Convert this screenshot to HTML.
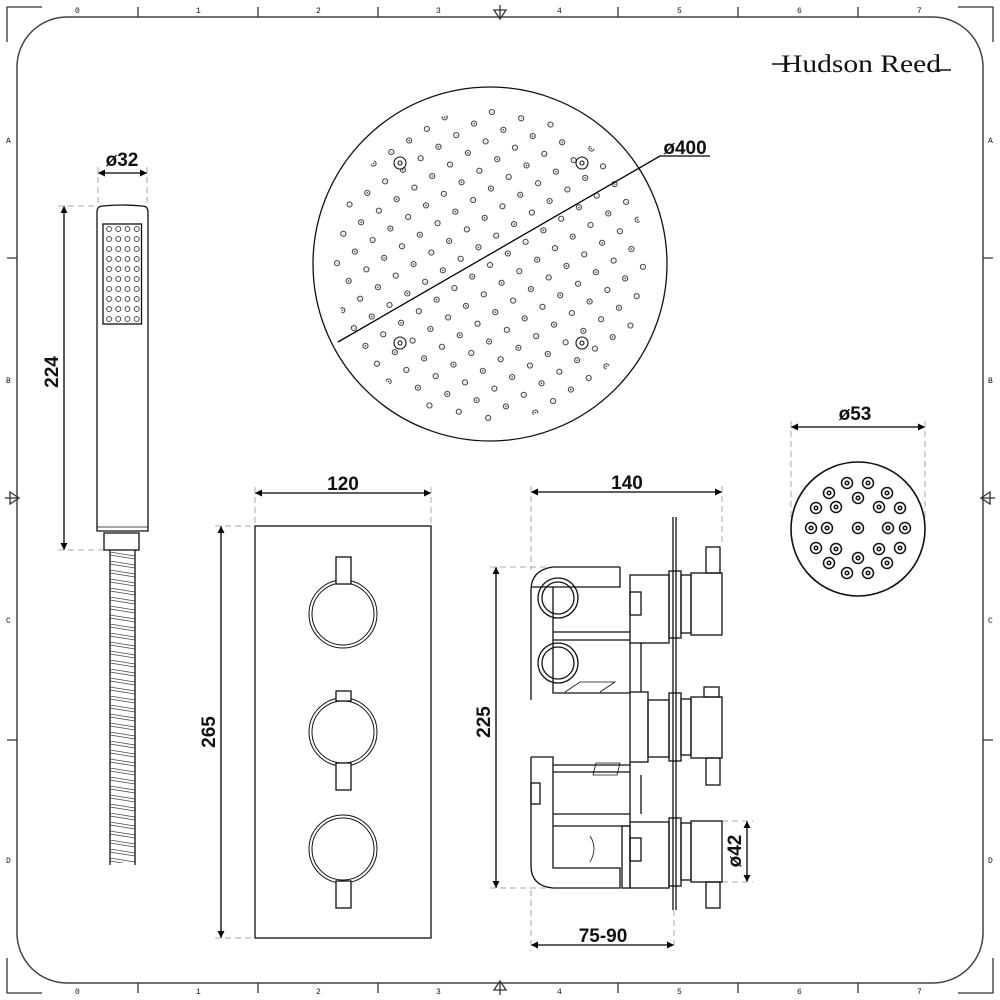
<!DOCTYPE html>
<html><head><meta charset="utf-8"><style>
html,body{margin:0;padding:0;background:#fff}
svg{display:block}
.t{font-family:"Liberation Sans",sans-serif;font-size:19px;font-weight:bold;fill:#111}
.s{font-family:"Liberation Mono",monospace;font-size:8px;fill:#111}
</style></head><body>
<svg width="1000" height="1000" viewBox="0 0 1000 1000" xmlns="http://www.w3.org/2000/svg">
<defs>
<marker id="a" viewBox="0 0 10 10" refX="10" refY="5" markerWidth="10" markerHeight="7" orient="auto-start-reverse" markerUnits="userSpaceOnUse"><path d="M0,0 L10,5 L0,10 z" fill="#000"/></marker>
<pattern id="hsp" x="104.5" y="224" width="9.2" height="10" patternUnits="userSpaceOnUse">
<circle cx="4.6" cy="5" r="2.5" fill="none" stroke="#222" stroke-width="0.8"/></pattern>
<pattern id="hp" x="110" y="552" width="25" height="9" patternUnits="userSpaceOnUse">
<path d="M0,0 L25,4 M0,3 L25,7" stroke="#444" stroke-width="0.7" fill="none"/></pattern>
<pattern id="sp" x="490" y="265" width="30" height="30" patternUnits="userSpaceOnUse" patternTransform="rotate(12 490 265)">
<circle cx="0" cy="0" r="2.6" fill="none" stroke="#222" stroke-width="0.9"/>
<circle cx="0" cy="0" r="0.8" fill="#222"/>
<circle cx="30" cy="0" r="2.6" fill="none" stroke="#222" stroke-width="0.9"/>
<circle cx="0" cy="30" r="2.6" fill="none" stroke="#222" stroke-width="0.9"/>
<circle cx="30" cy="30" r="2.6" fill="none" stroke="#222" stroke-width="0.9"/>
<circle cx="15" cy="15" r="2.6" fill="none" stroke="#222" stroke-width="0.9"/>
<circle cx="15" cy="15" r="0.8" fill="#222"/>
</pattern>
</defs>
<g fill="none" stroke="#333" stroke-width="1.3">
<rect x="17" y="17" width="966" height="966" rx="50" ry="50" stroke="#444" stroke-width="1.5"/>
<path d="M7,42 V7 H42 M958,7 H993 V42 M7,958 V993 H42 M958,993 H993 V958"/>
<path d="M138,7 V17 M258,7 V17 M378,7 V17 M618,7 V17 M738,7 V17 M858,7 V17
M138,983 V993 M258,983 V993 M378,983 V993 M618,983 V993 M738,983 V993 M858,983 V993
M7,258 H17 M7,740 H17 M983,258 H993 M983,740 H993"/>
<path d="M500,5 V19 M494,10 L500,19 L506,10 Z M500,981 V995 M494,990 L500,981 L506,990 Z
M5,498 H19 M10,492 L19,498 L10,504 Z M981,498 H995 M990,492 L981,498 L990,504 Z"/>
</g>
<g>
<text class="s" x="75" y="13">0</text><text class="s" x="196" y="13">1</text><text class="s" x="316" y="13">2</text><text class="s" x="436" y="13">3</text><text class="s" x="557" y="13">4</text><text class="s" x="677" y="13">5</text><text class="s" x="797" y="13">6</text><text class="s" x="917" y="13">7</text>
<text class="s" x="75" y="994">0</text><text class="s" x="196" y="994">1</text><text class="s" x="316" y="994">2</text><text class="s" x="436" y="994">3</text><text class="s" x="557" y="994">4</text><text class="s" x="677" y="994">5</text><text class="s" x="797" y="994">6</text><text class="s" x="917" y="994">7</text>
<text class="s" x="6" y="143">A</text><text class="s" x="6" y="383">B</text><text class="s" x="6" y="623">C</text><text class="s" x="6" y="863">D</text>
<text class="s" x="988" y="143">A</text><text class="s" x="988" y="383">B</text><text class="s" x="988" y="623">C</text><text class="s" x="988" y="863">D</text>
</g>
<text x="781" y="72" font-family="Liberation Serif,serif" font-size="25" fill="#111" textLength="160" lengthAdjust="spacingAndGlyphs">Hudson Reed</text>
<path d="M772,64 H790 M935,70 H951" stroke="#111" stroke-width="1.5"/>

<g stroke="#000" stroke-width="1.3" fill="none">
<line x1="98" y1="173" x2="147" y2="173" marker-start="url(#a)" marker-end="url(#a)"/>
<line x1="64" y1="206" x2="64" y2="550" marker-start="url(#a)" marker-end="url(#a)"/>
<line x1="255" y1="493" x2="431" y2="493" marker-start="url(#a)" marker-end="url(#a)"/>
<line x1="221" y1="526" x2="221" y2="938" marker-start="url(#a)" marker-end="url(#a)"/>
<line x1="531" y1="492" x2="722" y2="492" marker-start="url(#a)" marker-end="url(#a)"/>
<line x1="496" y1="567" x2="496" y2="888" marker-start="url(#a)" marker-end="url(#a)"/>
<line x1="531" y1="945" x2="674" y2="945" marker-start="url(#a)" marker-end="url(#a)"/>
<line x1="747" y1="821" x2="747" y2="882" marker-start="url(#a)" marker-end="url(#a)"/>
<line x1="791" y1="427" x2="925" y2="427" marker-start="url(#a)" marker-end="url(#a)"/>
</g>
<g stroke="#aaa" stroke-width="1" stroke-dasharray="6,4" fill="none">
<path d="M98,167 V204 M147,167 V204 M58,206 H96 M58,550 H104"/>
<path d="M255,487 V524 M431,487 V524 M215,526 H253 M215,938 H253"/>
<path d="M531,486 V570 M722,486 V545 M490,567 H550 M490,888 H550 M531,890 V951 M674,910 V951 M722,821 H753 M722,882 H753"/>
<path d="M791,421 V525 M925,421 V525"/>
</g>
<g>
<text class="t" x="122" y="166" text-anchor="middle">ø32</text>
<text class="t" x="685" y="154" text-anchor="middle">ø400</text>
<text class="t" x="855" y="420" text-anchor="middle">ø53</text>
<text class="t" x="343" y="490" text-anchor="middle">120</text>
<text class="t" x="627" y="489" text-anchor="middle">140</text>
<text class="t" x="603" y="942" text-anchor="middle">75-90</text>
<text class="t" transform="translate(58,372) rotate(-90)" text-anchor="middle">224</text>
<text class="t" transform="translate(215,732) rotate(-90)" text-anchor="middle">265</text>
<text class="t" transform="translate(490,722) rotate(-90)" text-anchor="middle">225</text>
<text class="t" transform="translate(741,851) rotate(-90)" text-anchor="middle">ø42</text>
</g>

<rect x="104.5" y="224" width="36.8" height="100" fill="url(#hsp)"/>
<rect x="110" y="552" width="25" height="311" fill="url(#hp)"/>
<circle cx="490" cy="265" r="156" fill="url(#sp)"/>
<g fill="none" stroke="#111" stroke-width="1.3">
<path d="M97,531 V212 Q97,206 103,206 Q122,204 142,206 Q148,206 148,212 V531 Z"/>
<line x1="97" y1="527" x2="148" y2="527" stroke-width="0.8"/>
<rect x="103" y="224" width="38.5" height="100"/>
<rect x="104" y="533" width="35" height="17"/>
<path d="M110,550 V865 M135,550 V865"/>

<circle cx="490" cy="264" r="177"/>
<path d="M338,342 L660,156 H710" stroke="#000"/>
<g fill="#fff" stroke-width="1.1">
<circle cx="400" cy="163" r="6"/><circle cx="582" cy="163" r="6"/><circle cx="400" cy="343" r="6"/><circle cx="582" cy="343" r="6"/>
<circle cx="400" cy="163" r="2"/><circle cx="582" cy="163" r="2"/><circle cx="400" cy="343" r="2"/><circle cx="582" cy="343" r="2"/>
</g>

<circle cx="858" cy="529" r="67" stroke-width="1.6"/>
<g stroke-width="1.5">
<circle cx="858" cy="528" r="5.5"/><circle cx="858" cy="528" r="1.8"/>
<circle cx="847" cy="483" r="5.5"/><circle cx="847" cy="483" r="1.8"/>
<circle cx="868" cy="483" r="5.5"/><circle cx="868" cy="483" r="1.8"/>
<circle cx="829" cy="493" r="5.5"/><circle cx="829" cy="493" r="1.8"/>
<circle cx="887" cy="493" r="5.5"/><circle cx="887" cy="493" r="1.8"/>
<circle cx="858" cy="498" r="5.5"/><circle cx="858" cy="498" r="1.8"/>
<circle cx="816" cy="508" r="5.5"/><circle cx="816" cy="508" r="1.8"/>
<circle cx="836" cy="507" r="5.5"/><circle cx="836" cy="507" r="1.8"/>
<circle cx="879" cy="507" r="5.5"/><circle cx="879" cy="507" r="1.8"/>
<circle cx="900" cy="508" r="5.5"/><circle cx="900" cy="508" r="1.8"/>
<circle cx="811" cy="528" r="5.5"/><circle cx="811" cy="528" r="1.8"/>
<circle cx="827" cy="528" r="5.5"/><circle cx="827" cy="528" r="1.8"/>
<circle cx="888" cy="528" r="5.5"/><circle cx="888" cy="528" r="1.8"/>
<circle cx="905" cy="528" r="5.5"/><circle cx="905" cy="528" r="1.8"/>
<circle cx="847" cy="573" r="5.5"/><circle cx="847" cy="573" r="1.8"/>
<circle cx="868" cy="573" r="5.5"/><circle cx="868" cy="573" r="1.8"/>
<circle cx="829" cy="563" r="5.5"/><circle cx="829" cy="563" r="1.8"/>
<circle cx="887" cy="563" r="5.5"/><circle cx="887" cy="563" r="1.8"/>
<circle cx="858" cy="558" r="5.5"/><circle cx="858" cy="558" r="1.8"/>
<circle cx="816" cy="548" r="5.5"/><circle cx="816" cy="548" r="1.8"/>
<circle cx="836" cy="549" r="5.5"/><circle cx="836" cy="549" r="1.8"/>
<circle cx="879" cy="549" r="5.5"/><circle cx="879" cy="549" r="1.8"/>
<circle cx="900" cy="548" r="5.5"/><circle cx="900" cy="548" r="1.8"/>
</g>

<rect x="255" y="526" width="176" height="412"/>
<g stroke-width="1">
<circle cx="343" cy="614" r="34"/><circle cx="343" cy="614" r="31"/>
<circle cx="343" cy="732" r="34"/><circle cx="343" cy="732" r="31"/>
<circle cx="343" cy="849" r="34"/><circle cx="343" cy="849" r="31"/>
</g>
<g fill="#fff">
<rect x="336" y="557" width="15" height="27"/>
<rect x="336" y="691" width="15" height="10"/>
<rect x="336" y="763" width="15" height="27"/>
<rect x="336" y="881" width="15" height="27"/>
</g>

<path d="M620,567 H553 Q531,570 531,590 V700 M531,587 H620 V567"/>
<path d="M531,757 V866 Q531,886 553,888 H620 V868 H553 V757 H531"/>
<path d="M553,587 V693 H630 M553,632 H630 M553,640 H630 M553,765 H630 M553,772 H630 M553,814 H630 M553,826 H630"/>
<circle cx="558" cy="598" r="20"/><circle cx="558" cy="598" r="16"/>
<circle cx="558" cy="663" r="20"/><circle cx="558" cy="663" r="16"/>
<path d="M565,692 L580,682 H615 L600,692" stroke-width="0.8"/>
<path d="M593,775 L596,763 H620 L617,775 Z" stroke-width="0.8"/>
<path d="M590,836 Q598,848 590,862" stroke-width="0.8"/>
<rect x="531" y="783" width="9" height="21"/>
<rect x="630" y="575" width="39" height="68"/>
<rect x="630" y="592" width="11" height="23"/>
<path d="M630,643 V692 M630,762 V822 M641,643 V692 M641,775 V814"/>
<rect x="630" y="692" width="18" height="70"/>
<rect x="648" y="700" width="21" height="57"/>
<rect x="622" y="826" width="8" height="62"/>
<rect x="630" y="822" width="39" height="66"/>
<rect x="630" y="838" width="11" height="23"/>
<rect x="669" y="571" width="12" height="67"/>
<rect x="669" y="693" width="12" height="68"/>
<rect x="669" y="818" width="12" height="68"/>
<path d="M673,517 V910 M676,517 V910"/>
<rect x="681" y="575" width="10" height="58"/>
<rect x="691" y="573" width="31" height="62"/>
<rect x="706" y="547" width="14" height="26"/>
<rect x="681" y="699" width="10" height="56"/>
<rect x="691" y="697" width="31" height="61"/>
<rect x="704" y="687" width="15" height="10"/>
<rect x="706" y="758" width="14" height="27"/>
<rect x="681" y="823" width="10" height="57"/>
<rect x="691" y="821" width="31" height="61"/>
<rect x="706" y="882" width="14" height="26"/>
</g>
</svg>
</body></html>
